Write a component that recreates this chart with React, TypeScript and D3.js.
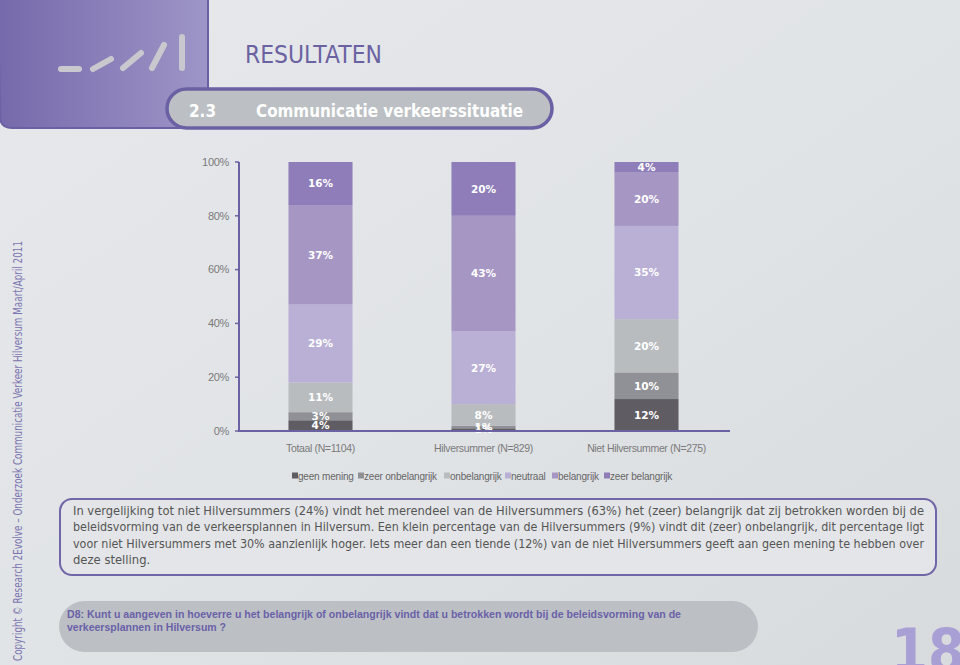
import React from "react";
import * as d3 from "d3";

const categories = ["Totaal (N=1104)", "Hilversummer (N=829)", "Niet Hilversummer (N=275)"];
const responses = ["geen mening", "zeer onbelangrijk", "onbelangrijk", "neutraal", "belangrijk", "zeer belangrijk"];
const geenMening = [4, 1, 12];
const zeerOnbelangrijk = [3, 1, 10];
const onbelangrijk = [11, 8, 20];
const neutraal = [29, 27, 35];
const belangrijk = [37, 43, 20];
const zeerBelangrijk = [16, 20, 4];
const yTicks = [0, 0.2, 0.4, 0.6, 0.8, 1];

const seriesValues = [geenMening, zeerOnbelangrijk, onbelangrijk, neutraal, belangrijk, zeerBelangrijk];
const colors = ["#5f5d63", "#8f9196", "#b8bcbf", "#bab0d6", "#a696c4", "#8e7db8"];

const bodyLines = [
  "In vergelijking tot niet Hilversummers (24%) vindt het merendeel van de Hilversummers (63%) het (zeer) belangrijk dat zij betrokken worden bij de",
  "beleidsvorming van de verkeersplannen in Hilversum. Een klein percentage van de Hilversummers (9%) vindt dit (zeer) onbelangrijk, dit percentage ligt",
  "voor niet Hilversummers met 30% aanzienlijk hoger. Iets meer dan een tiende (12%) van de niet Hilversummers geeft aan geen mening te hebben over",
  "deze stelling.",
];
const questionLines = [
  "D8: Kunt u aangeven in hoeverre u het belangrijk of onbelangrijk vindt dat u betrokken wordt bij de beleidsvorming van de",
  "verkeersplannen in Hilversum ?",
];
const sideText = "Copyright \u00A9 Research 2Evolve \u2013  Onderzoek Communicatie Verkeer Hilversum Maart/April 2011";

const legendOffsets = [0, 66, 152, 213, 260, 312];

export default function App() {
  const table = categories.map((c, i) => {
    const row: any = { cat: c };
    responses.forEach((r, j) => (row[r] = seriesValues[j][i]));
    return row;
  });
  const stacked = d3.stack<any>().keys(responses).offset(d3.stackOffsetExpand)(table);

  const x = d3.scaleBand<string>().domain(categories).range([239, 728]).paddingInner(0.607).paddingOuter(0.3035);
  const y = d3.scaleLinear().domain([0, 1]).range([431, 162]);
  const axisColor = "#6a62a2";
  const font = "'Liberation Sans', Arial, sans-serif";

  return (
    <svg width={960} height={665} style={{ position: "absolute", left: 0, top: 0 }} xmlns="http://www.w3.org/2000/svg">
      <defs>
        <linearGradient id="bg" x1="0" y1="0" x2="1" y2="1">
          <stop offset="0" stopColor="#e6e8eb" />
          <stop offset="0.5" stopColor="#e1e4e7" />
          <stop offset="1" stopColor="#d8dbde" />
        </linearGradient>
        <linearGradient id="purp" x1="0" y1="0" x2="1" y2="0">
          <stop offset="0" stopColor="#7669ab" />
          <stop offset="1" stopColor="#9e95c7" />
        </linearGradient>
      </defs>
      <rect x={0} y={0} width={960} height={665} fill="url(#bg)" />

      {/* top-left purple block */}
      <path d="M-2,-2 L208,-2 L208,128 L12,128 Q0,128 0,116 Z" fill="url(#purp)" stroke="#6a60a4" strokeWidth={2} />
      <g stroke="#c9c8ce" strokeWidth={6} strokeLinecap="round">
        <line x1={61} y1={69} x2={79} y2={69} />
        <line x1={93} y1={69} x2={111} y2={59} />
        <line x1={123} y1={68} x2={141} y2={53} />
        <line x1={152} y1={68} x2={164} y2={45} />
        <line x1={182} y1={37} x2={182} y2={68} />
      </g>

      <text x={245} y={63} fontFamily="'DejaVu Sans', sans-serif" fontSize={24} fill="#6b62a2" textLength={137} lengthAdjust="spacingAndGlyphs">RESULTATEN</text>

      <rect x={167} y={89} width={385} height={39} rx={19.5} fill="#bcc0c4" stroke="#6a60a4" strokeWidth={3.5} />
      <text x={189} y={117} fontFamily="'DejaVu Sans', sans-serif" fontWeight="bold" fontSize={18} fill="#ffffff" textLength={27} lengthAdjust="spacingAndGlyphs">2.3</text>
      <text x={256} y={117} fontFamily="'DejaVu Sans', sans-serif" fontWeight="bold" fontSize={18} fill="#ffffff" textLength={267} lengthAdjust="spacingAndGlyphs">Communicatie verkeerssituatie</text>

      {/* side vertical text */}
      <text transform="translate(22,661) rotate(-90)" fontFamily="'DejaVu Sans', sans-serif" fontSize={11.5} fill="#7d74b0" textLength={420} lengthAdjust="spacingAndGlyphs">{sideText}</text>

      {/* chart */}
      <g>
        {stacked.map((s, si) => (
          <g key={s.key} fill={colors[si]}>
            {s.map((d, i) => (
              <rect key={i} x={x(categories[i])} y={y(d[1])} width={x.bandwidth()} height={y(d[0]) - y(d[1])} />
            ))}
          </g>
        ))}
        {stacked.map((s, si) => (
          <g key={"l" + s.key}>
            {s.map((d, i) => (
              <text key={i} x={(x(categories[i]) as number) + x.bandwidth() / 2} y={(y(d[0]) + y(d[1])) / 2} dy="0.36em" textAnchor="middle" fontFamily="'DejaVu Sans', sans-serif" fontWeight="bold" fontSize={10.5} fill="#ffffff">
                {seriesValues[si][i]}%
              </text>
            ))}
          </g>
        ))}
        <line x1={239} y1={y(1)} x2={239} y2={y(0)} stroke={axisColor} strokeWidth={2} />
        <line x1={238} y1={y(0)} x2={730} y2={y(0)} stroke={axisColor} strokeWidth={2} />
        {yTicks.map((t) => (
          <g key={t}>
            <line x1={235} x2={239} y1={y(t)} y2={y(t)} stroke={axisColor} strokeWidth={1.5} />
            <text x={229} y={y(t)} dy="0.35em" textAnchor="end" fontFamily={font} fontSize={11} fill="#7a7a7a" letterSpacing={-0.3}>
              {Math.round(t * 100)}%
            </text>
          </g>
        ))}
        {categories.map((c) => (
          <text key={c} x={(x(c) as number) + x.bandwidth() / 2} y={452} textAnchor="middle" fontFamily={font} fontSize={10.5} fill="#7a7a7a" letterSpacing={-0.35}>
            {c}
          </text>
        ))}
        {responses.map((r, i) => (
          <g key={r} transform={`translate(${292 + legendOffsets[i]},0)`}>
            <rect x={0} y={472.5} width={6} height={6} fill={colors[i]} />
            <text x={6} y={480} fontFamily={font} fontSize={10} fill="#666" letterSpacing={-0.2}>{r}</text>
          </g>
        ))}
      </g>

      {/* text box */}
      <rect x={60} y={499} width={876} height={76} rx={12} fill="#e3e5e8" stroke="#6f67a8" strokeWidth={2} />
      {bodyLines.map((l, i) => (
        <text key={i} x={73} y={515 + i * 16.3} fontFamily="'DejaVu Sans', sans-serif" fontSize={11.6} fill="#555" textLength={i < 3 ? 851 : undefined} lengthAdjust="spacingAndGlyphs">
          {l}
        </text>
      ))}

      {/* question pill */}
      <rect x={59} y={601} width={699} height={51} rx={25.5} fill="#bcc0c4" />
      {questionLines.map((l, i) => (
        <text key={i} x={67} y={618 + i * 12.5} fontFamily={font} fontWeight="bold" fontSize={10} fill="#6a60a8" textLength={i === 0 ? 614 : 159} lengthAdjust="spacingAndGlyphs">
          {l}
        </text>
      ))}

      {/* page number */}
      <text x={891} y={672} fontFamily="'DejaVu Sans', sans-serif" fontWeight="bold" fontSize={60} fill="#a89fd4" textLength={74} lengthAdjust="spacingAndGlyphs">18</text>
    </svg>
  );
}
